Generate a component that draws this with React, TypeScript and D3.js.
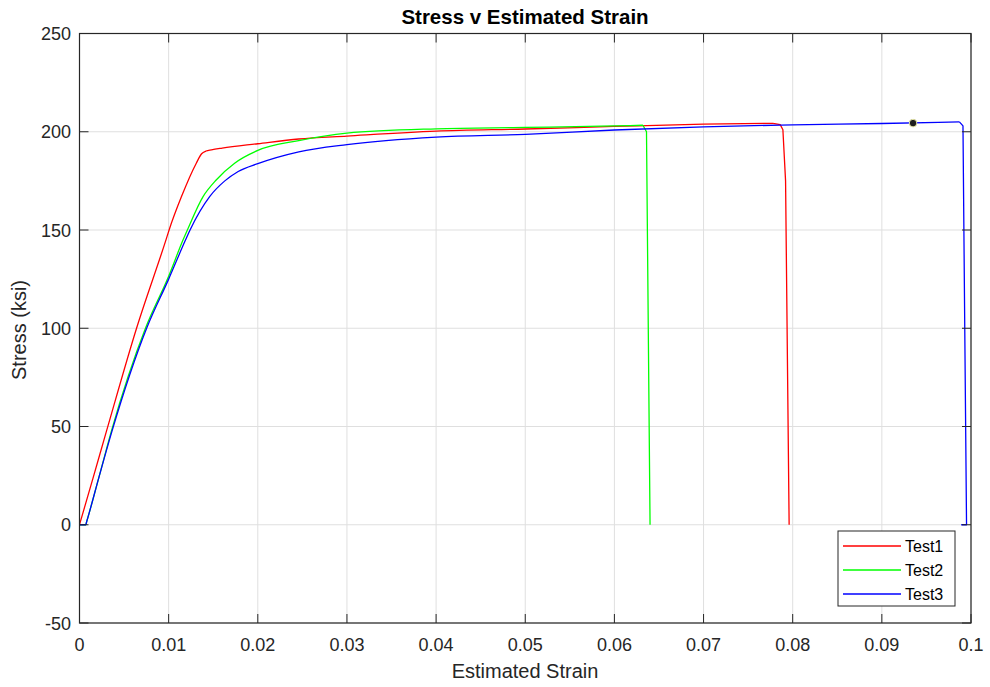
import React from "react";
import * as d3 from "d3";

const xTicks = [0, 0.01, 0.02, 0.03, 0.04, 0.05, 0.06, 0.07, 0.08, 0.09, 0.1];
const xTickLabels = ["0", "0.01", "0.02", "0.03", "0.04", "0.05", "0.06", "0.07", "0.08", "0.09", "0.1"];
const yTicks = [-50, 0, 50, 100, 150, 200, 250];

const test1Strain = [0, 0.0015, 0.00305, 0.0064, 0.0097, 0.01005, 0.01144, 0.0131, 0.0137, 0.0142, 0.0148, 0.016, 0.02, 0.0246, 0.03, 0.04, 0.05, 0.06, 0.07, 0.0778, 0.0786, 0.0789, 0.0792, 0.0796];
const test1Stress = [0, 23.5, 48, 100, 145, 150, 167, 184, 188.8, 190.2, 190.8, 191.7, 193.9, 196.3, 197.8, 200.3, 201.4, 202.7, 203.9, 204.3, 203.6, 201, 175, 0];

const test2Strain = [0, 0.0007, 0.0008, 0.0022, 0.0036, 0.0074, 0.01, 0.01162, 0.0121, 0.01386, 0.01536, 0.0174, 0.02, 0.0246, 0.03, 0.04, 0.05, 0.06, 0.0632, 0.0636, 0.064];
const test2Stress = [0, 0, 1.5, 24.5, 48, 100, 126.5, 145, 150, 167, 175.6, 184, 190.5, 195.5, 199.3, 201.5, 202.2, 203, 203.3, 200, 0];

const test3Strain = [0, 0.0007, 0.0008, 0.0022, 0.00367, 0.00753, 0.01, 0.0119, 0.0124, 0.0146, 0.0163, 0.0178, 0.02, 0.0246, 0.03, 0.04, 0.05, 0.06, 0.07, 0.08, 0.09, 0.0987, 0.0991, 0.0993, 0.0995, 0.0989];
const test3Stress = [0, 0, 1.5, 24.5, 48, 100, 125, 145, 150, 167, 175, 179.8, 183.8, 189.8, 193.5, 197.3, 198.7, 200.9, 202.5, 203.5, 204.2, 205, 203, 100, 0, 0];

const markerPoint = { strain: 0.0935, stress: 204.4 };

const seriesNames = ["Test1", "Test2", "Test3"];
const seriesColors = ["#ff0000", "#00ff00", "#0000ff"];

const FONT = "'Liberation Sans', Arial, Helvetica, sans-serif";
const AX = "#262626";

export default function App() {
  const x = d3.scaleLinear().domain([0, 0.1]).range([79.5, 971]);
  const y = d3.scaleLinear().domain([-50, 250]).range([623, 33.5]);
  const smooth = d3
    .line<[number, number]>()
    .x((d) => x(d[0]))
    .y((d) => y(d[1]))
    .curve(d3.curveMonotoneX);
  const straight = d3
    .line<[number, number]>()
    .x((d) => x(d[0]))
    .y((d) => y(d[1]));

  const raw = [
    [test1Strain, test1Stress],
    [test2Strain, test2Stress],
    [test3Strain, test3Stress],
  ];
  const series = raw.map(([s, v]) => {
    const pts = s.map((e, i) => [e, v[i]] as [number, number]);
    const k = v.indexOf(Math.max(...v));
    return { rise: pts.slice(0, k + 1), drop: pts.slice(k) };
  });

  const [x0, x1] = x.range();
  const [y0, y1] = y.range();
  const tickLen = 9;
  const legX = 838, legY = 531, legW = 117, legH = 75;

  return (
    <svg
      width={990}
      height={687}
      style={{ position: "absolute", left: 0, top: 0, background: "#fff" }}
      fontFamily={FONT}
    >
      <rect x={0} y={0} width={990} height={687} fill="#fff" />
      {xTicks.map((t) => (
        <line key={"gx" + t} x1={x(t)} x2={x(t)} y1={y0} y2={y1} stroke="#dfdfdf" strokeWidth={1} />
      ))}
      {yTicks.map((t) => (
        <line key={"gy" + t} x1={x0} x2={x1} y1={y(t)} y2={y(t)} stroke="#dfdfdf" strokeWidth={1} />
      ))}
      <defs>
        <clipPath id="clip">
          <rect x={x0} y={y1} width={x1 - x0} height={y0 - y1} />
        </clipPath>
      </defs>
      <g clipPath="url(#clip)">
        {series.map((d, i) => (
          <g key={i} fill="none" stroke={seriesColors[i]} strokeWidth={1.3} strokeLinejoin="round">
            <path d={smooth(d.rise) || ""} />
            <path d={straight(d.drop) || ""} />
          </g>
        ))}
      </g>
      <circle cx={x(markerPoint.strain)} cy={y(markerPoint.stress)} r={3.8} fill="#1e1e1e" stroke="#e6e6a8" strokeWidth={1} />
      {xTicks.map((t) => (
        <g key={"tx" + t}>
          <line x1={x(t)} x2={x(t)} y1={y0} y2={y0 - tickLen} stroke={AX} />
          <line x1={x(t)} x2={x(t)} y1={y1} y2={y1 + tickLen} stroke={AX} />
        </g>
      ))}
      {yTicks.map((t) => (
        <g key={"ty" + t}>
          <line x1={x0} x2={x0 + tickLen} y1={y(t)} y2={y(t)} stroke={AX} />
          <line x1={x1} x2={x1 - tickLen} y1={y(t)} y2={y(t)} stroke={AX} />
        </g>
      ))}
      <rect x={x0} y={y1} width={x1 - x0} height={y0 - y1} fill="none" stroke={AX} strokeWidth={1.2} />
      {xTicks.map((t, i) => (
        <text key={"lx" + t} x={x(t)} y={651} textAnchor="middle" fontSize={18} fill={AX}>
          {xTickLabels[i]}
        </text>
      ))}
      {yTicks.map((t) => (
        <text key={"ly" + t} x={71} y={y(t) + 6.5} textAnchor="end" fontSize={18} fill={AX}>
          {t}
        </text>
      ))}
      <text x={525} y={24} textAnchor="middle" fontSize={20.5} fontWeight="bold" fill="#000">
        Stress v Estimated Strain
      </text>
      <text x={525} y={678} textAnchor="middle" fontSize={20} fill={AX}>
        Estimated Strain
      </text>
      <text transform={`translate(26,330) rotate(-90)`} textAnchor="middle" fontSize={20} fill={AX}>
        Stress (ksi)
      </text>
      <rect x={legX} y={legY} width={legW} height={legH} fill="#fff" stroke={AX} strokeWidth={1} />
      {seriesNames.map((n, i) => {
        const cy = legY + 15 + i * 24;
        return (
          <g key={n}>
            <line x1={843} x2={901} y1={cy} y2={cy} stroke={seriesColors[i]} strokeWidth={1.3} />
            <text x={905} y={cy + 5.5} fontSize={16} fill="#000">
              {n}
            </text>
          </g>
        );
      })}
    </svg>
  );
}
